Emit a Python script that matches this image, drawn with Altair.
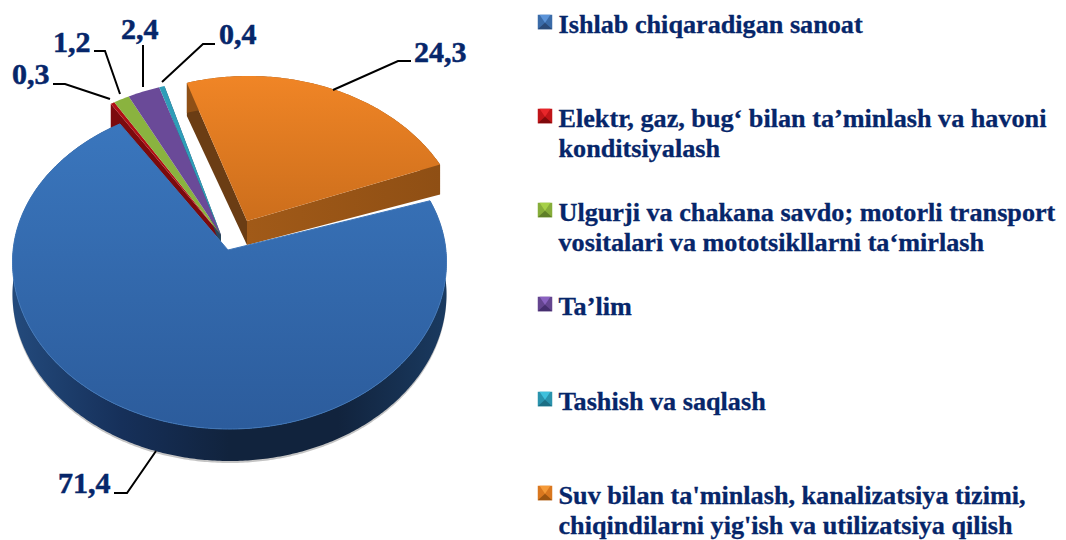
import numpy as np
import pandas as pd
import altair as alt

CATEGORIES = ["Ishlab chiqaradigan sanoat",
              "Elektr, gaz, bug‘ bilan ta’minlash va havoni\nkonditsiyalash",
              "Ulgurji va chakana savdo; motorli transport\nvositalari va mototsikllarni ta‘mirlash",
              "Ta’lim",
              "Tashish va saqlash",
              "Suv bilan ta'minlash, kanalizatsiya tizimi,\nchiqindilarni yig'ish va utilizatsiya qilish"]
SHARES = [71.4, 0.3, 1.2, 2.4, 0.4, 24.3]
VALUE_LABELS = ["71,4", "0,3", "1,2", "2,4", "0,4", "24,3"]
TOP_COLORS = ["#2f5f9f", "#b00f14", "#8ab33f", "#6a4a98", "#2f9db8", "#e07a22"]
LEGEND_MID = ["#3a6ba8", "#c01418", "#86ad3a", "#64458f", "#2a93ad", "#d9771f"]
LEGEND_LIGHT = ["#5b93d8", "#e8262a", "#a6d048", "#8a62c0", "#3fc0dc", "#f59a38"]
LEGEND_DARK = ["#2a4a78", "#800a0c", "#5f7f28", "#452e6e", "#1c6f85", "#9c5410"]
TEXT_COLOR = "#06266a"

LABEL_X = [58, 12, 53, 121, 219, 414]
LABEL_Y = [493, 84, 52, 39, 44, 62]
LEADERS = [[(114, 493), (127, 493), (156, 451)],
           [(53, 84), (65, 84), (110, 99)],
           [(94, 51), (105, 51), (120, 94)],
           [(143, 45), (143, 87)],
           [(162, 82), (203, 44), (215, 44)],
           [(333, 90), (398, 61), (411, 61)]]
LEGEND_Y = [33, 127, 221, 315, 410, 504]

CX, CY, RX, RY, DEPTH = 229.5, 262.0, 217.0, 167.0, 32.0
XS = alt.Scale(domain=[8, 1058], nice=False, zero=False)
YS = alt.Scale(domain=[540, 8], nice=False, zero=False)
xe = alt.X("x:Q", scale=XS, axis=None)
ye = alt.Y("y:Q", scale=YS, axis=None)


def arc(start, span, dx=0.0, dy=0.0, ry_back=RY):
    th = np.radians(np.linspace(start, start + span, max(6, int(abs(span) * 1.5))))
    ry = np.where(np.cos(th) > 0, ry_back, RY)
    return list(zip(CX + dx + RX * np.sin(th), CY + dy - ry * np.cos(th)))


def poly(points, fill, **kw):
    df = pd.DataFrame(points, columns=["x", "y"])
    df["i"] = range(len(df))
    kw.setdefault("stroke", None)
    return alt.Chart(df).mark_line(fill=fill, interpolate="linear-closed", **kw).encode(
        x=xe, y=ye, order=alt.Order("i:Q"))


def vgrad(a, b):
    return alt.Gradient(gradient="linear", x1=0, x2=0, y1=0, y2=1,
                        stops=[alt.GradientStop(color=a, offset=0), alt.GradientStop(color=b, offset=1)])


def hgrad(*cs):
    return alt.Gradient(gradient="linear", x1=0, x2=1, y1=0, y2=0,
                        stops=[alt.GradientStop(color=c, offset=k / (len(cs) - 1)) for k, c in enumerate(cs)])


def shifted(pts, d):
    return [(x, y + d) for x, y in pts]


layers = []

# orange slice, pulled out
o_arc = arc(343.5, SHARES[5] * 3.6 * 0.897, 19, -19)
o_apex = (247, 221)
layers.append(poly([o_apex, o_arc[0], (o_arc[0][0], o_arc[0][1] + 33), (o_apex[0], o_apex[1] + 24)], "#6b3d14"))
layers.append(poly(o_arc + shifted(o_arc[::-1], 30), "#8f5016"))
layers.append(poly([o_apex, o_arc[-1], (o_arc[-1][0], o_arc[-1][1] + 30), (o_apex[0], o_apex[1] + 24)],
                   hgrad("#a15a18", "#8f4f14")))
layers.append(poly([o_apex] + o_arc, vgrad("#f08526", "#cc6e1c")))

# small slices, slightly pulled out
apex_s = (221, 235)
ang = 329.0
small = []
for k in range(1, 5):
    small.append((ang, SHARES[k] * 3.6, TOP_COLORS[k]))
    ang += SHARES[k] * 3.6
red_arc = arc(small[0][0], small[0][1], -7, -15)
layers.append(poly([apex_s, red_arc[0], (red_arc[0][0], red_arc[0][1] + 27), (apex_s[0], apex_s[1] + 12)], "#7c0a0d"))
teal_arc = arc(small[3][0], small[3][1], -7, -15)
layers.append(poly([apex_s, teal_arc[-1], (teal_arc[-1][0], teal_arc[-1][1] + 12), (apex_s[0], apex_s[1] + 12)], "#27465e"))
for s, sp, c in small:
    layers.append(poly([apex_s] + arc(s, sp, -7, -15), c))

# blue slice
b_arc = arc(67.5, SHARES[0] * 3.6 * 1.02, ry_back=160)
b_apex = (228, 250)
layers.insert(0, poly(b_arc + shifted(b_arc[::-1], DEPTH + 2), "#c4c4c4"))
layers.append(poly(b_arc + shifted(b_arc[::-1], DEPTH), hgrad("#234a7c", "#16305a", "#11233d", "#11233d", "#1a3a60")))
layers.append(poly([b_apex] + b_arc, vgrad("#3a76bd", "#2c5c9c"), stroke="#3f76b8", strokeWidth=1))

# leader lines
rows = [dict(g=g, i=i, x=p[0], y=p[1]) for g, line in enumerate(LEADERS) for i, p in enumerate(line)]
layers.append(alt.Chart(pd.DataFrame(rows)).mark_line(color="black", strokeWidth=2).encode(
    x=xe, y=ye, detail="g:N", order=alt.Order("i:Q")))

# value labels
layers.append(alt.Chart(pd.DataFrame({"x": LABEL_X, "y": LABEL_Y, "t": VALUE_LABELS})).mark_text(
    font="Liberation Serif", fontWeight="bold", fontSize=30, align="left", baseline="alphabetic",
    color=TEXT_COLOR, stroke=TEXT_COLOR, strokeWidth=0.5
).encode(x=xe, y=ye, text="t:N"))

# legend
text_rows = []
for name, y in zip(CATEGORIES, LEGEND_Y):
    for j, line in enumerate(name.split("\n")):
        text_rows.append(dict(x=558.5, y=y + 30 * j, t=line))
layers.append(alt.Chart(pd.DataFrame(text_rows)).mark_text(
    font="Liberation Serif", fontWeight="bold", fontSize=26.2, align="left", baseline="alphabetic",
    color=TEXT_COLOR, stroke=TEXT_COLOR, strokeWidth=0.3
).encode(x=xe, y=ye, text="t:N"))

leg = pd.DataFrame({"x": [545] * 6, "y": [v - 11 for v in LEGEND_Y], "c": LEGEND_MID,
                    "l": LEGEND_LIGHT, "d": LEGEND_DARK})
layers.append(alt.Chart(leg).mark_point(shape="M-1,-1L1,-1L1,1L-1,1Z", size=210, filled=True, opacity=1).encode(
    x=xe, y=ye, color=alt.Color("c:N", scale=None)))
layers.append(alt.Chart(leg).mark_point(shape="M-0.75,-1L0.75,-1L0,0.1Z", size=210, filled=True, opacity=1).encode(
    x=xe, y=ye, color=alt.Color("l:N", scale=None)))
layers.append(alt.Chart(leg).mark_point(shape="M-1,1L1,1L0,0.1Z", size=210, filled=True, opacity=1).encode(
    x=xe, y=ye, color=alt.Color("d:N", scale=None)))

chart = alt.layer(*layers).properties(
    width=1050, height=532, padding=0, background="white",
    autosize=alt.AutoSizeParams(type="none", contains="padding"),
).configure_view(stroke=None)
chart.save("out.html", embed_options={"renderer": "svg", "actions": False})
